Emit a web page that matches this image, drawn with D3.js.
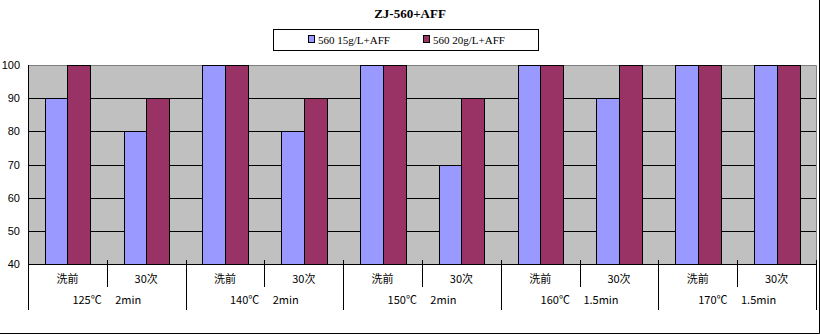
<!DOCTYPE html>
<html><head><meta charset="utf-8">
<script src="https://cdn.jsdelivr.net/npm/d3@7"></script>
<style>body{margin:0;background:#fff}svg{display:block}</style>
</head><body>
<svg id="c" width="820" height="336"></svg>
<script>
const title = "ZJ-560+AFF";
const groups = ["125℃\u3000 2min", "140℃\u3000 2min", "150℃\u3000 2min", "160℃\u3000 1.5min", "170℃\u3000 1.5min"];
const subs = ["洗前", "30次"];
const seriesNames = ["560 15g/L+AFF", "560 20g/L+AFF"];
const s15 = [90, 80, 100, 80, 100, 70, 100, 90, 100, 100];
const s20 = [100, 90, 100, 90, 100, 90, 100, 100, 100, 100];
const yTicks = [40, 50, 60, 70, 80, 90, 100];
const colors = ["#9999FF", "#993366"];

const cats = [];
groups.forEach((g, gi) => subs.forEach((s, si) => cats.push({id: gi + "-" + si, g, s, gi, si})));
const series = [s15, s20];

const svg = d3.select("#c");
const L = 28, R = 816, T = 65, B = 264;
const x = d3.scaleBand().domain(cats.map(c => c.id)).range([L, R]).paddingInner(1.5/3.5).paddingOuter(0.75/3.5);
const xs = d3.scaleBand().domain([0, 1]).range([0, x.bandwidth()]);
const y = d3.scaleLinear().domain([40, 100]).range([B, T]);
const step = x.step();

// plot background
svg.append("rect").attr("x", L).attr("y", T).attr("width", R - L).attr("height", B - T).attr("fill", "#C0C0C0");
// gridlines
svg.append("g").selectAll("line").data(yTicks.filter(v => v > 40 && v < 100)).join("line")
  .attr("x1", L).attr("x2", R).attr("y1", d => Math.round(y(d)) + 0.5).attr("y2", d => Math.round(y(d)) + 0.5)
  .attr("stroke", "#000").attr("stroke-width", 1);
// top & right border
svg.append("path").attr("d", `M${L},${T + 0.5}H${R + 0.5}V${B}`).attr("fill", "none").attr("stroke", "#808080");

// bars
series.forEach((sv, si) => {
  svg.append("g").selectAll("rect").data(cats).join("rect")
    .attr("x", d => Math.round(x(d.id) + xs(si)) + 0.5)
    .attr("y", (d, i) => Math.round(y(sv[i])) + 0.5)
    .attr("width", Math.round(xs.bandwidth()))
    .attr("height", (d, i) => Math.round(y(40)) - Math.round(y(sv[i])))
    .attr("fill", colors[si]).attr("stroke", "#000").attr("stroke-width", 1);
});

// y axis
svg.append("line").attr("x1", L + 0.5).attr("x2", L + 0.5).attr("y1", T).attr("y2", B).attr("stroke", "#000");
svg.append("g").selectAll("text").data(yTicks).join("text")
  .attr("x", 20).attr("y", d => y(d) + 4).attr("text-anchor", "end")
  .attr("font-family", "Arial, 'Liberation Sans', sans-serif").attr("font-size", 11).text(d => d);

// x axis line
svg.append("line").attr("x1", L).attr("x2", R + 1).attr("y1", B + 0.5).attr("y2", B + 0.5).attr("stroke", "#000");
// ticks
const bounds = d3.range(cats.length + 1);
svg.append("g").selectAll("line").data(bounds).join("line")
  .attr("x1", i => Math.round(L + i * step) + 0.5).attr("x2", i => Math.round(L + i * step) + 0.5)
  .attr("y1", i => (i === 0 ? B : B - 4)).attr("y2", i => (i % 2 === 0 ? 310 : 287))
  .attr("stroke", "#000");
// sub labels
svg.append("g").selectAll("text").data(cats).join("text")
  .attr("x", d => x(d.id) + x.bandwidth() / 2).attr("y", 283).attr("text-anchor", "middle")
  .attr("font-family", "'Noto Sans CJK SC', sans-serif").attr("font-size", 11).text(d => d.s);
// group labels
svg.append("g").selectAll("text").data(groups).join("text")
  .attr("x", (d, i) => L + (i * 2 + 1) * step).attr("y", 304).attr("text-anchor", "middle")
  .attr("font-family", "'Noto Sans CJK SC', sans-serif").attr("font-size", 11).text(d => d);

// outer border (right & bottom)
svg.append("path").attr("d", "M819.5,0V333.5H0").attr("fill", "none").attr("stroke", "#000");

// title
svg.append("text").attr("x", 410).attr("y", 18).attr("text-anchor", "middle")
  .attr("font-family", "'Liberation Serif', serif").attr("font-weight", "bold").attr("font-size", 13).text(title);

// legend
const lg = svg.append("g");
lg.append("rect").attr("x", 273.5).attr("y", 29.5).attr("width", 265).attr("height", 21).attr("fill", "#fff").attr("stroke", "#000");
const lx = [308, 423];
seriesNames.forEach((n, i) => {
  lg.append("rect").attr("x", lx[i] + 0.5).attr("y", 35.5).attr("width", 6).attr("height", 7).attr("fill", colors[i]).attr("stroke", "#000");
  lg.append("text").attr("x", lx[i] + 10).attr("y", 44).attr("font-family", "'Liberation Serif', serif").attr("font-size", 11).text(n);
});
</script>
</body></html>
